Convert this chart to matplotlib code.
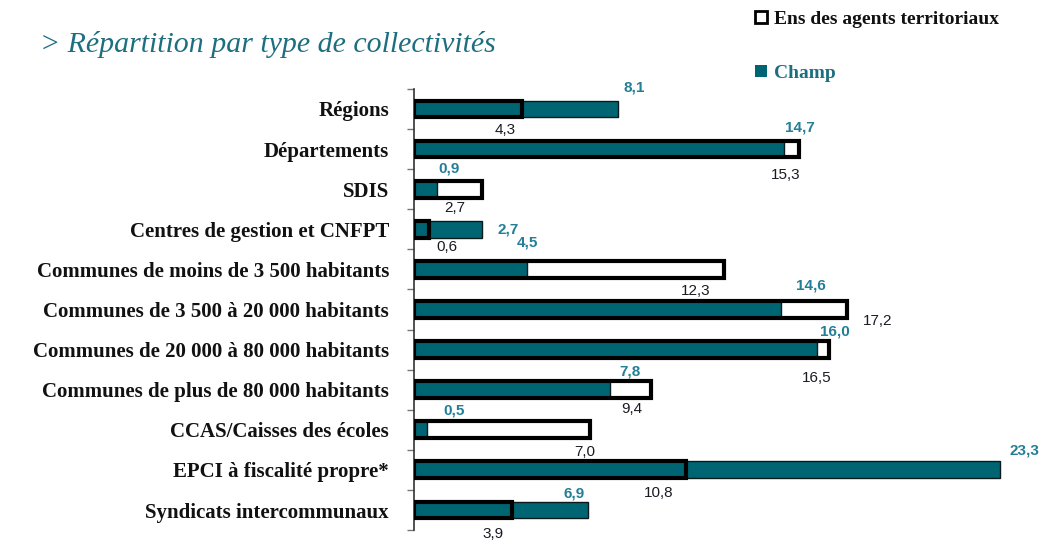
import matplotlib
matplotlib.use("Agg")
import matplotlib.pyplot as plt
from matplotlib.patches import Patch

# data
categories = ["Régions", "Départements", "SDIS", "Centres de gestion et CNFPT",
              "Communes de moins de 3 500 habitants",
              "Communes de 3 500 à 20 000 habitants",
              "Communes de 20 000 à 80 000 habitants",
              "Communes de plus de 80 000 habitants",
              "CCAS/Caisses des écoles", "EPCI à fiscalité propre*",
              "Syndicats intercommunaux"]
ens = [4.3, 15.3, 2.7, 0.6, 12.3, 17.2, 16.5, 9.4, 7.0, 10.8, 3.9]
champ = [8.1, 14.7, 0.9, 2.7, 4.5, 14.6, 16.0, 7.8, 0.5, 23.3, 6.9]

# label nudges (pixels from bar end / bar centre), as placed in the original
champ_nudge = [(16, 21), (16, 22), (12, 21), (26, 0), (0, 27), (29, 24),
               (18, 18), (20, 18), (27, 19), (24, 19), (-14, 17)]
ens_nudge = [(-17, -21), (-13, -26), (-27, -19), (18, -18), (-28, -22), (31, -12),
             (-13, -28), (-19, -19), (-5, -22), (-27, -23), (-19, -24)]

TEAL = "#006573"
TEAL_TXT = "#237e97"
SERIF = "Liberation Serif"
SANS = "Liberation Sans"

fig = plt.figure(figsize=(10.43, 5.42), dpi=100)
ax = fig.add_axes([0.397, 0.022, 0.579, 0.814])

y = list(range(len(categories)))
h = 0.42
# white bars first, then teal, then the thick outline of the white bars on top
ax.barh(y, ens, height=h, color="white", edgecolor="none", zorder=1)
ax.barh(y, champ, height=h, color=TEAL, edgecolor="#0a1a1c", linewidth=1.0, zorder=2)
ax.barh(y, ens, height=h, color="none", edgecolor="black", linewidth=3.0, zorder=3)

for i in y:
    ax.annotate(f"{champ[i]:.1f}".replace(".", ","), (champ[i], i),
                xytext=champ_nudge[i], textcoords="offset pixels",
                ha="center", va="center", fontsize=11, fontweight="bold",
                family=SANS, color=TEAL_TXT, annotation_clip=False)
    ax.annotate(f"{ens[i]:.1f}".replace(".", ","), (ens[i], i),
                xytext=ens_nudge[i], textcoords="offset pixels",
                ha="center", va="center", fontsize=11,
                family=SANS, color="#1b1b24", annotation_clip=False)

ax.set_xlim(0, 24)
ax.set_ylim(len(categories) - 0.5, -0.5)
ax.set_xticks([])
ax.set_yticks([i - 0.5 for i in range(len(categories) + 1)])
ax.set_yticklabels([])
ax.tick_params(axis="y", which="major", length=5, width=1, color="#777777")
ax.set_yticks(y, minor=True)
ax.set_yticklabels(categories, minor=True, family=SERIF, fontweight="bold",
                   fontsize=15, color="#111111")
ax.tick_params(axis="y", which="minor", length=0, pad=18)
for s in ["top", "right", "bottom"]:
    ax.spines[s].set_visible(False)
ax.spines["left"].set_color("#333333")
ax.spines["left"].set_linewidth(1.2)

fig.text(0.038, 0.918, "> Répartition par type de collectivités", family=SERIF,
         style="italic", fontsize=21.5, color="#1d6f80", va="center")

handles = [Patch(facecolor="white", edgecolor="black", linewidth=2),
           Patch(facecolor=TEAL, edgecolor="none")]
leg = fig.legend(handles, ["Ens des agents territoriaux", "Champ"],
                 loc="upper left", bbox_to_anchor=(0.707, 1.012), frameon=False,
                 prop={"family": SERIF, "weight": "bold", "size": 14},
                 handlelength=0.6, handleheight=0.6, handletextpad=0.4,
                 labelspacing=1.9)
leg.get_texts()[0].set_color("#111111")
leg.get_texts()[1].set_color("#1d6f80")

fig.savefig("out.png", dpi=100)
